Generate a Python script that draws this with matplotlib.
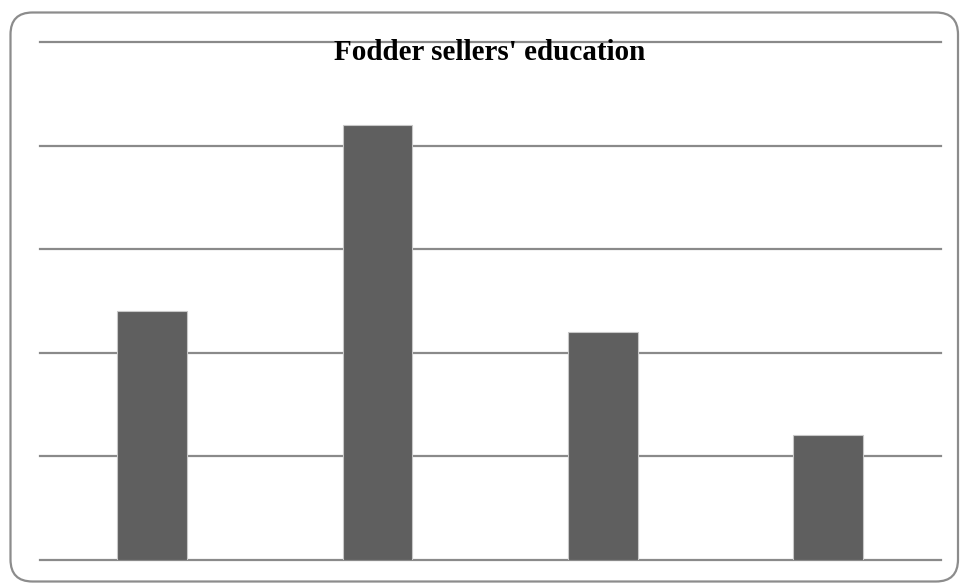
import matplotlib.pyplot as plt
from matplotlib.patches import FancyBboxPatch

# education levels of fodder sellers (share, %)
levels = ['Illiterate', 'Primary', 'Secondary', 'Higher']
shares = [24, 42, 22, 12]
grid_steps = [0, 10, 20, 30, 40, 50]

fig = plt.figure(figsize=(9.6, 5.84), dpi=100)
W, H = 960, 584

# outer rounded frame, drawn in inches so the corners stay circular
frame = FancyBboxPatch((10.5 / 100, 2.5 / 100), (958 - 10.5) / 100, (571.5 - 2.5) / 100,
                       boxstyle='round,pad=0,rounding_size=0.22',
                       transform=fig.dpi_scale_trans, facecolor='none',
                       edgecolor='#8c8c8c', linewidth=1.6, zorder=0)
fig.patches.append(frame)

ax = fig.add_axes([39.5 / W, (H - 559.5) / H, (941 - 39.5) / W, (559.5 - 42) / H])
ax.patch.set_alpha(0)

x = range(len(levels))
ax.bar(x, shares, width=0.31, color='#5f5f5f', edgecolor='#c8c8c8',
       linewidth=0.8, zorder=3)

for g in grid_steps:
    ax.axhline(g, color='#8a8a8a', linewidth=1.6, zorder=1, clip_on=False)

ax.set_xlim(-0.5, len(levels) - 0.5)
ax.set_ylim(0, 50)
ax.set_xticks([])
ax.set_yticks([])
for s in ax.spines.values():
    s.set_visible(False)

fig.text(490 / W, 1 - 53 / H, "Fodder sellers' education", ha='center', va='center',
         fontsize=21, fontweight='bold', family='Liberation Serif', color='black', zorder=5)

fig.savefig('out.png', dpi=100)
